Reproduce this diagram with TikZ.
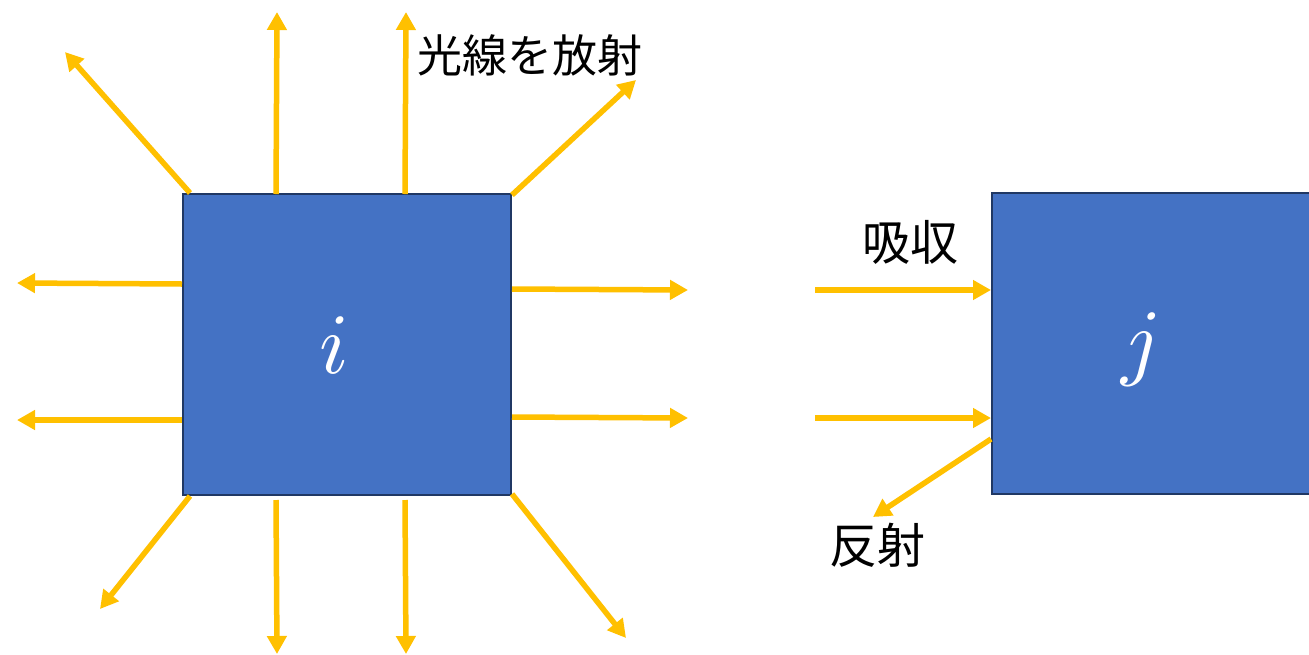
\documentclass[tikz,border=0pt]{standalone}
\usepackage{fontspec}
\usepackage{unicode-math}
\setmathfont{Latin Modern Math}
\newfontfamily\jp{Noto Sans CJK JP}
\usetikzlibrary{arrows.meta}
\definecolor{boxblue}{HTML}{4472C4}
\definecolor{boxedge}{HTML}{203864}
\definecolor{ray}{HTML}{FFC000}
\tikzset{
  blockbox/.style={draw=boxedge, line width=2pt, fill=boxblue, inner sep=0pt},
  rayarrow/.style={draw=ray, line width=5.5pt, -{Triangle[width=19pt,length=18pt]}},
  jplabel/.style={font=\jp\fontsize{45}{50}\selectfont, inner sep=0pt, anchor=center},
  jpsmall/.style={font=\jp\fontsize{48}{54}\selectfont, inner sep=0pt, anchor=center},
  varlabel/.style={text=white, font=\fontsize{86}{92}\selectfont, inner sep=0pt}
}
\begin{document}
\begin{tikzpicture}[x=1pt,y=-1pt]
\useasboundingbox (0,0) rectangle (1309,654);
\clip (0,0) rectangle (1309,654);
\fill[white] (0,0) rectangle (1309,654);
% boxes
\node[blockbox, minimum width=328pt, minimum height=301pt] (bi) at (347,344.5) {};
\node[blockbox, minimum width=360pt, minimum height=301pt, anchor=north west] (bj) at (991,192) {};
\node[varlabel] (li) at (334,346) {$i$};
\node[varlabel] (lj) at (1140,350) {$j$};
% free ends
\coordinate (u1) at (277,12);
\coordinate (u2) at (406,12);
\coordinate (ul) at (65,52);
\coordinate (ur) at (636,80);
\coordinate (l1) at (17,283);
\coordinate (l2) at (17,420);
\coordinate (r1) at (688,290);
\coordinate (r2) at (688,418);
\coordinate (dl) at (100,609);
\coordinate (d1) at (277,654);
\coordinate (d2) at (406,654);
\coordinate (dr) at (626,638);
\coordinate (a1) at (815,290);
\coordinate (a2) at (815,418);
\coordinate (rf) at (873,517);
% emission
\draw[rayarrow] ([xshift=94pt,yshift=-1pt]bi.north west) -- (u1);
\draw[rayarrow] ([xshift=223pt,yshift=-1pt]bi.north west) -- (u2);
\draw[rayarrow] ([xshift=8pt]bi.north west) -- (ul);
\draw[rayarrow] ([yshift=-2pt]bi.north east) -- (ur);
\draw[rayarrow] ([yshift=-91pt]bi.north west) -- (l1);
\draw[rayarrow] ([yshift=-227pt]bi.north west) -- (l2);
\draw[rayarrow] ([yshift=-96pt]bi.north east) -- (r1);
\draw[rayarrow] ([yshift=-224pt]bi.north east) -- (r2);
\draw[rayarrow] ([xshift=8pt]bi.south west) -- (dl);
\draw[rayarrow] ([xshift=94pt,yshift=-4pt]bi.south west) -- (d1);
\draw[rayarrow] ([xshift=223pt,yshift=-4pt]bi.south west) -- (d2);
\draw[rayarrow] ([yshift=2pt]bi.south east) -- (dr);
% absorption / reflection
\draw[rayarrow] (a1) -- ([yshift=-98pt]bj.north west);
\draw[rayarrow] (a2) -- ([yshift=-226pt]bj.north west);
\draw[rayarrow] ([yshift=-247pt]bj.north west) -- (rf);
% labels
\node[jplabel] (t1) at (530,55) {光線を放射};
\node[jpsmall] (t2) at (910,242) {吸収};
\node[jpsmall] (t3) at (877,545) {反射};
\end{tikzpicture}
\end{document}
